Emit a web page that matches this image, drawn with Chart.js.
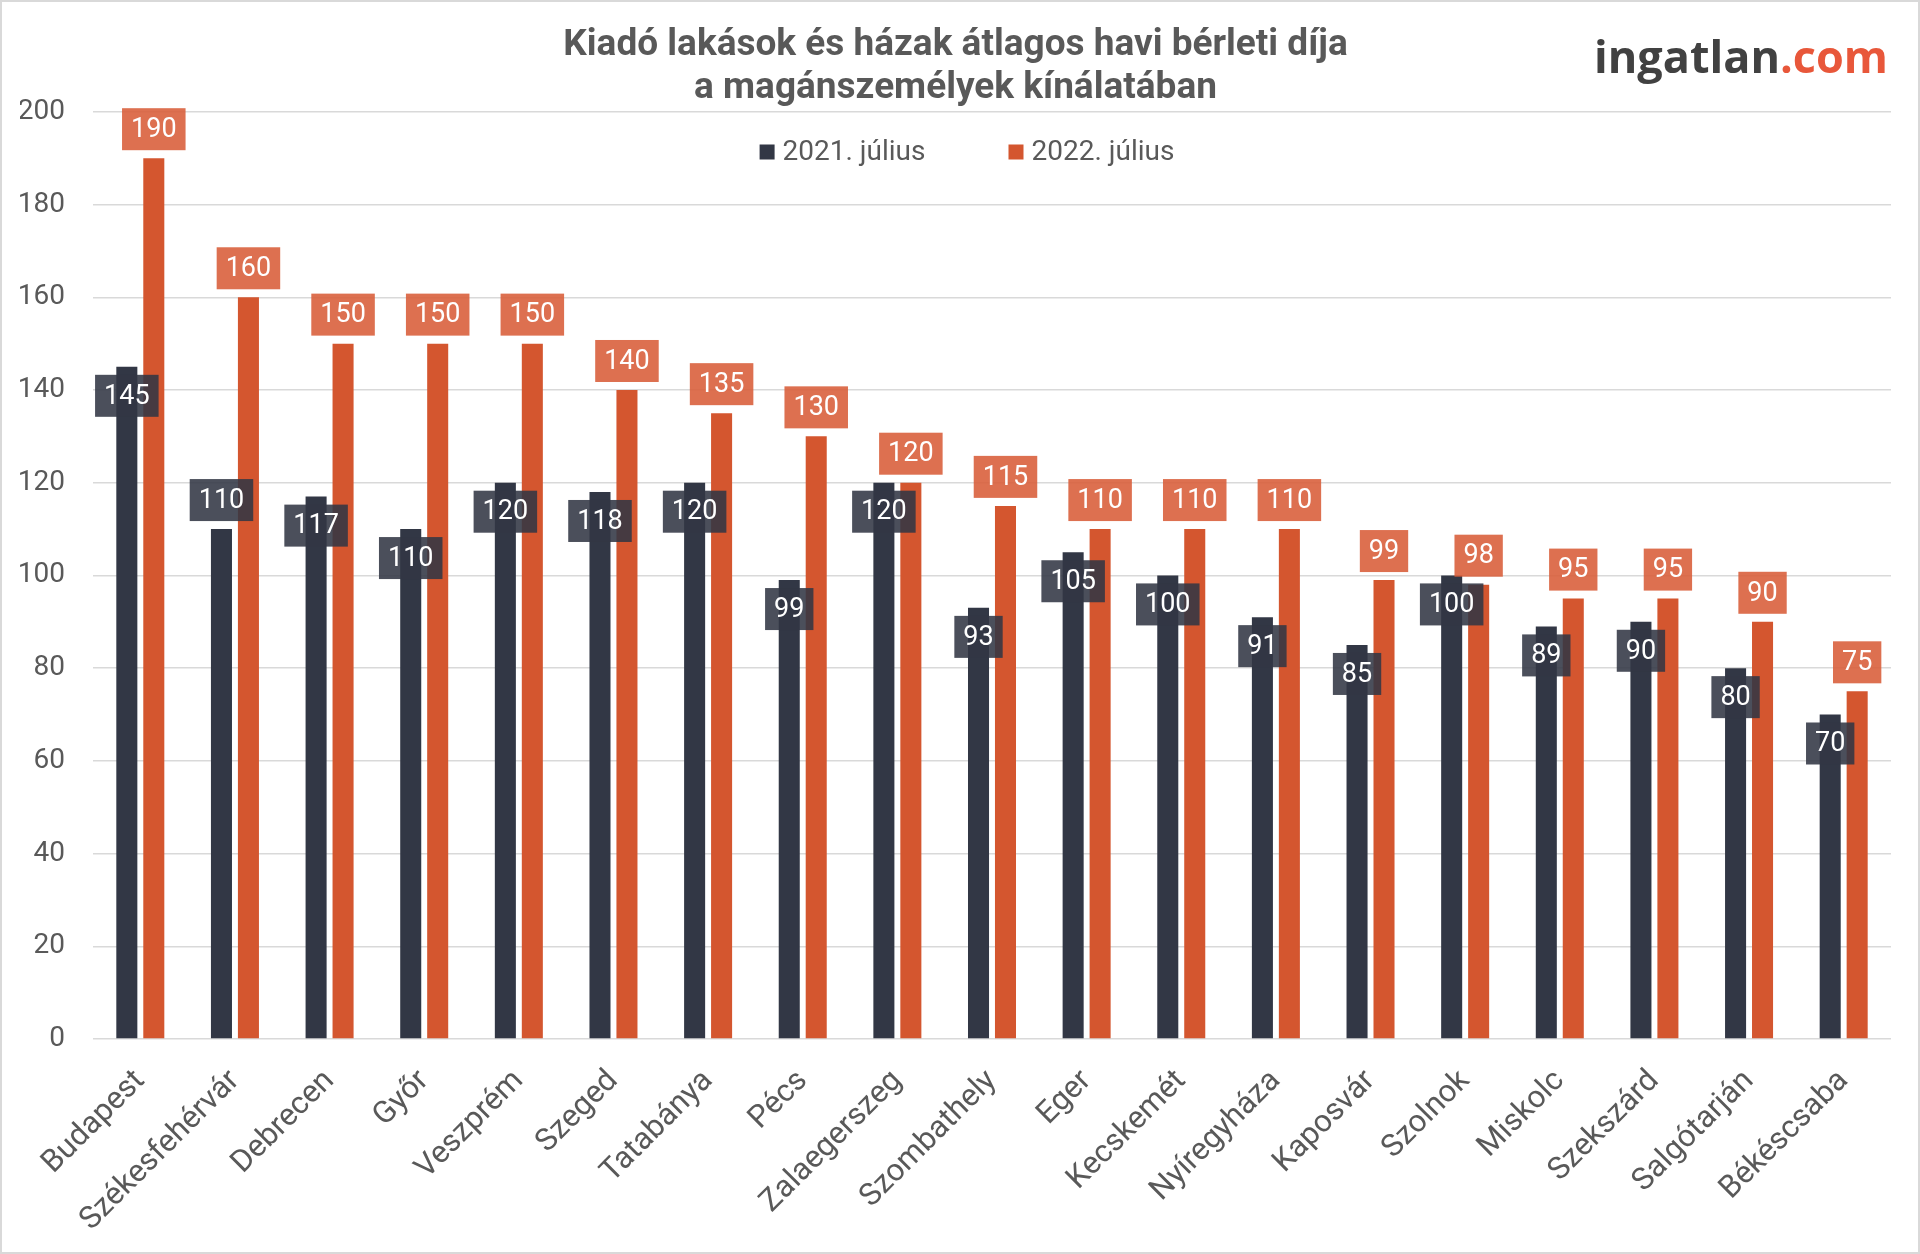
<!DOCTYPE html>
<html lang="hu">
<head>
<meta charset="utf-8">
<title>Kiadó lakások és házak átlagos havi bérleti díja</title>
<script src="https://cdn.jsdelivr.net/npm/chart.js@4.4.1/dist/chart.umd.min.js"></script>
<style>
  html, body { margin: 0; padding: 0; background: #fff; }
  #chart { display: block; }
</style>
</head>
<body>
<canvas id="chart" width="1920" height="1254"></canvas>
<script>
// ezer Ft / hó
const cities = ['Budapest', 'Székesfehérvár', 'Debrecen', 'Győr', 'Veszprém', 'Szeged', 'Tatabánya', 'Pécs',
    'Zalaegerszeg', 'Szombathely', 'Eger', 'Kecskemét', 'Nyíregyháza', 'Kaposvár', 'Szolnok', 'Miskolc',
    'Szekszárd', 'Salgótarján', 'Békéscsaba'];
const rent2021 = [145, 110, 117, 110, 120, 118, 120, 99, 120, 93, 105, 100, 91, 85, 100, 89, 90, 80, 70];
const rent2022 = [190, 160, 150, 150, 150, 140, 135, 130, 120, 115, 110, 110, 110, 99, 98, 95, 95, 90, 75];
const seriesNames = ['2021. július', '2022. július'];
const titleLines = ['Kiadó lakások és házak átlagos havi bérleti díja', 'a magánszemélyek kínálatában'];
const yMin = 0, yMax = 200, yStep = 20;
// the one 2021 label that sits on top of its bar instead of inside
const labelsAbove2021 = ['Székesfehérvár'];

const DARK = '#323745';
const ORANGE = '#d4562f';
const TEXT = '#595959';

Chart.defaults.font.family = 'Roboto';
Chart.defaults.color = TEXT;

// white page + thin grey frame
const framePlugin = {
    id: 'frame',
    beforeDraw(chart) {
        const ctx = chart.ctx;
        ctx.save();
        ctx.fillStyle = '#fff';
        ctx.fillRect(0, 0, chart.width, chart.height);
        ctx.strokeStyle = '#d9d9d9';
        ctx.lineWidth = 2;
        ctx.strokeRect(1, 1, chart.width - 2, chart.height - 2);
        ctx.restore();
    }
};

// value boxes: 2021 inside the bar end, 2022 above the bar
const valueBoxes = {
    id: 'valueBoxes',
    afterDatasetsDraw(chart) {
        const ctx = chart.ctx;
        ctx.save();
        ctx.font = '27px Roboto';
        ctx.textAlign = 'center';
        ctx.textBaseline = 'middle';
        const boxH = 42;
        chart.data.datasets.forEach((ds, i) => {
            const meta = chart.getDatasetMeta(i);
            meta.data.forEach((bar, j) => {
                const txt = String(ds.data[j]);
                const w = ctx.measureText(txt).width + 18;
                let cy;
                if (i === 0 && !labelsAbove2021.includes(chart.data.labels[j])) {
                    cy = bar.y + 8 + boxH / 2;
                } else {
                    cy = bar.y - 8 - boxH / 2;
                }
                ctx.fillStyle = i === 0 ? 'rgba(50,55,68,0.88)' : 'rgba(216,92,56,0.88)';
                ctx.fillRect(bar.x - w / 2, cy - boxH / 2, w, boxH);
                ctx.fillStyle = '#fff';
                ctx.fillText(txt, bar.x, cy + 1);
            });
        });
        ctx.restore();
    }
};

// legend sits inside the plot, under the 200 gridline
const innerLegend = {
    id: 'innerLegend',
    afterDraw(chart) {
        const ctx = chart.ctx;
        ctx.save();
        ctx.font = '28px Roboto';
        ctx.textBaseline = 'middle';
        const box = 15, gap = 8, spacing = 83;
        const items = chart.data.datasets.map(ds => ({
            text: ds.label, color: ds.backgroundColor, w: box + gap + ctx.measureText(ds.label).width
        }));
        const total = items.reduce((s, it) => s + it.w, 0) + spacing * (items.length - 1);
        let x = chart.width / 2 - total / 2 + 7;
        const y = 152;
        items.forEach(it => {
            ctx.fillStyle = it.color;
            ctx.fillRect(x, y - box / 2, box, box);
            ctx.fillStyle = TEXT;
            ctx.fillText(it.text, x + box + gap, y + 1);
            x += it.w + spacing;
        });
        ctx.restore();
    }
};

const logo = {
    id: 'logo',
    afterDraw(chart) {
        const ctx = chart.ctx;
        ctx.save();
        ctx.font = '700 45px "Open Sans"';
        ctx.textBaseline = 'alphabetic';
        const right = 1888, base = 73;
        const w2 = ctx.measureText('.com').width;
        const w1 = ctx.measureText('ingatlan').width;
        ctx.fillStyle = '#e8573a';
        ctx.fillText('.com', right - w2, base);
        ctx.fillStyle = '#414141';
        ctx.fillText('ingatlan', right - w2 - w1, base);
        ctx.restore();
    }
};

const ctx = document.getElementById('chart').getContext('2d');
new Chart(ctx, {
    type: 'bar',
    data: {
        labels: cities,
        datasets: [
            { label: seriesNames[0], data: rent2021, backgroundColor: DARK },
            { label: seriesNames[1], data: rent2022, backgroundColor: ORANGE }
        ]
    },
    options: {
        responsive: false,
        animation: false,
        datasets: {
            bar: { categoryPercentage: 0.57, barPercentage: 0.78 }
        },
        layout: { autoPadding: false, padding: { left: 20, right: 29, top: 0, bottom: 0 } },
        plugins: {
            legend: { display: false },
            tooltip: { enabled: false },
            title: {
                display: true,
                text: titleLines,
                color: TEXT,
                font: { size: 37, weight: 'bold', lineHeight: 1.16 },
                padding: { top: 24, bottom: 2 }
            }
        },
        scales: {
            x: {
                grid: { display: false },
                border: { display: false },
                ticks: {
                    color: TEXT,
                    font: { size: 31 },
                    minRotation: 45,
                    maxRotation: 45,
                    autoSkip: false,
                    padding: 16
                },
                // slanted labels hang past the plot edge like in the original
                afterFit(scale) {
                    scale.paddingLeft = 0;
                    scale.paddingRight = 0;
                    scale.height = 215;
                }
            },
            y: {
                min: yMin,
                max: yMax,
                grid: { color: '#d9d9d9', lineWidth: 1.5, drawTicks: false },
                border: { display: false },
                ticks: {
                    stepSize: yStep,
                    color: TEXT,
                    font: { size: 28 },
                    padding: 28
                },
                afterFit(scale) {
                    scale.width = 73;
                }
            }
        }
    },
    plugins: [framePlugin, valueBoxes, innerLegend, logo]
});
</script>
</body>
</html>
